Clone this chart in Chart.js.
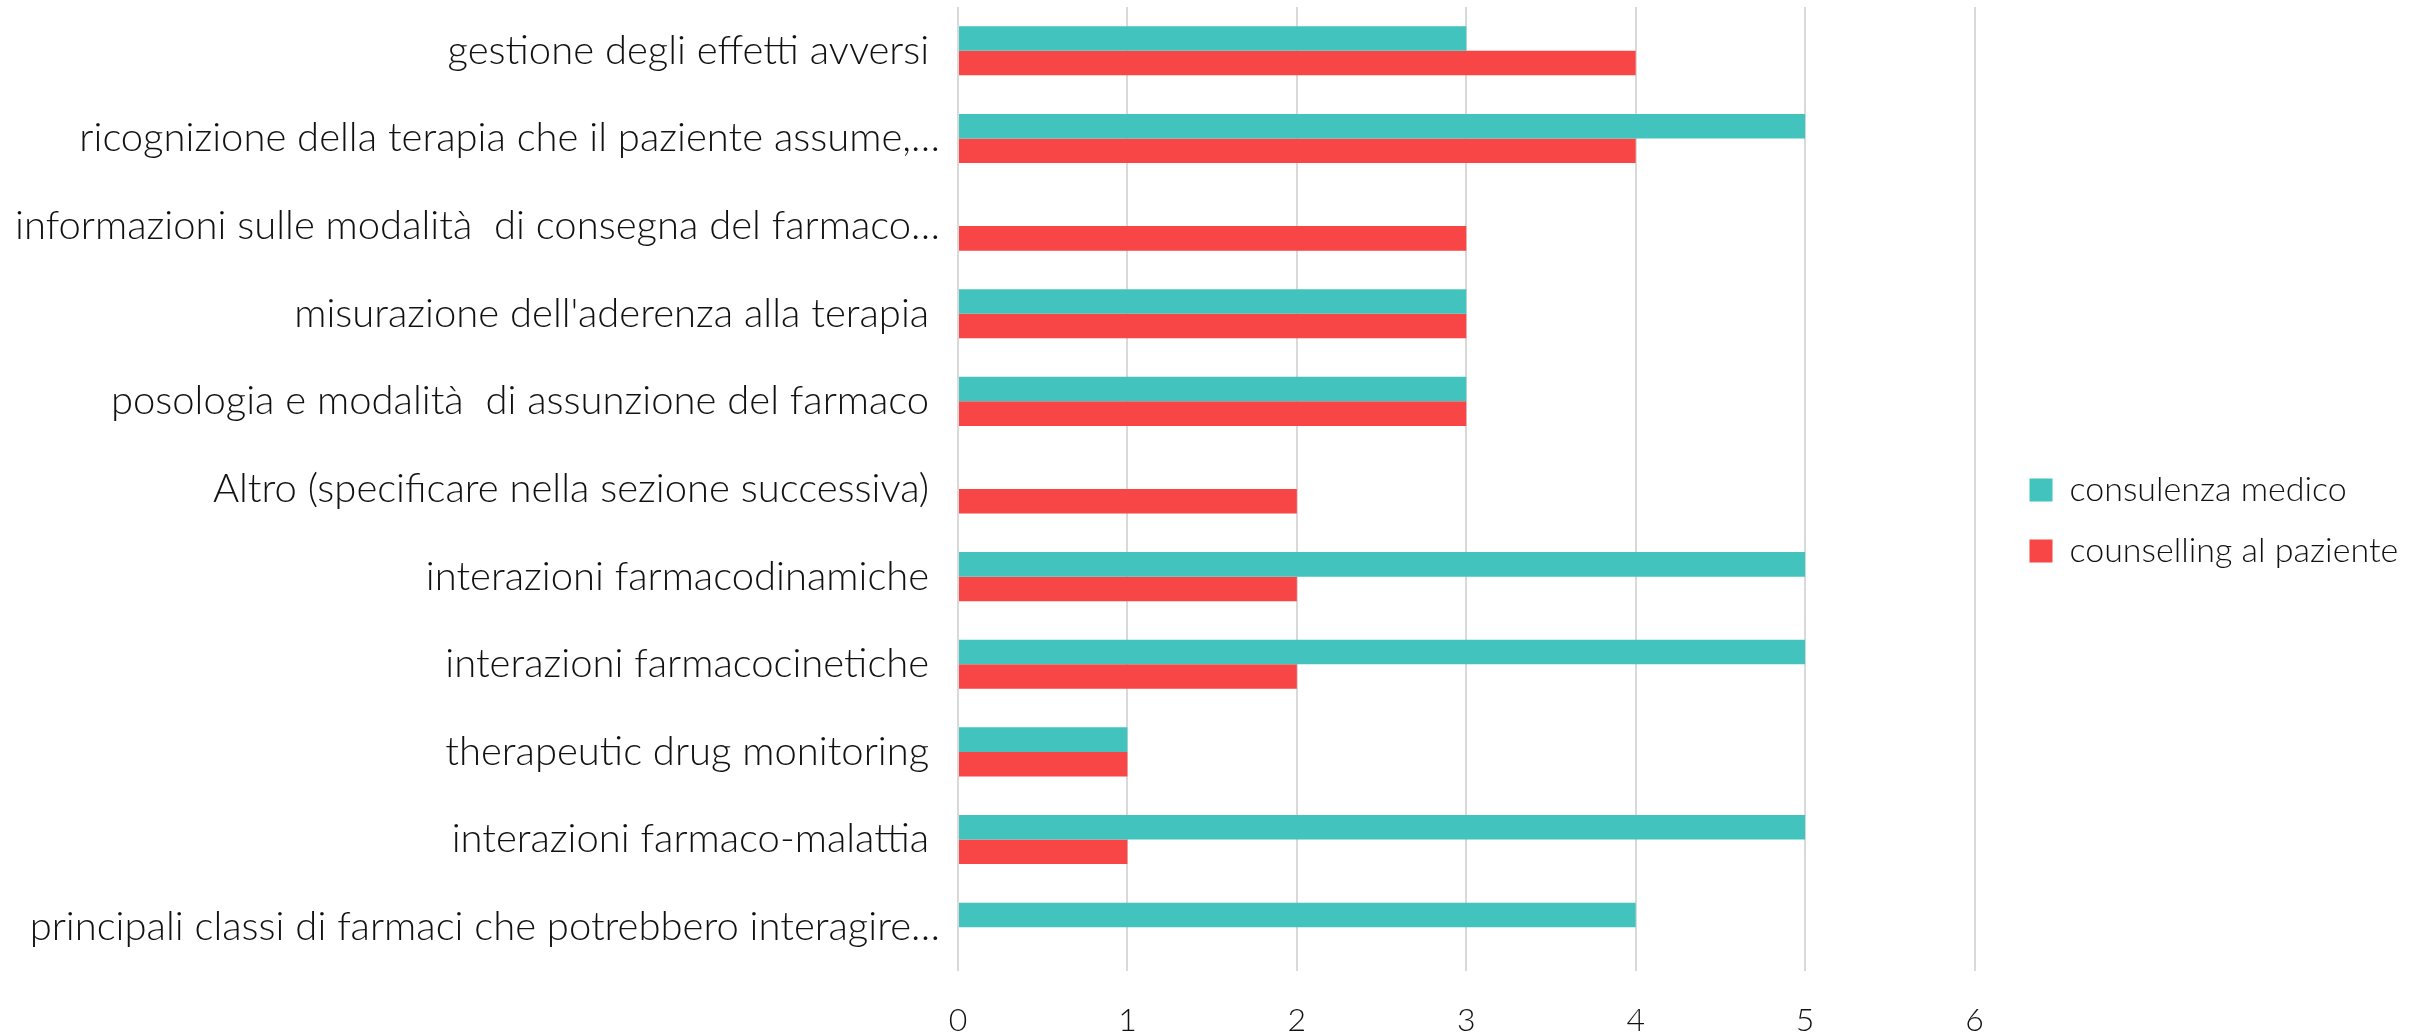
<!DOCTYPE html>
<html>
<head>
<meta charset="utf-8">
<script src="https://cdn.jsdelivr.net/npm/chart.js@4"></script>
<style>
  html, body { margin: 0; padding: 0; background: #fff; }
  #wrap { width: 2427px; height: 1034px; position: relative; }
</style>
</head>
<body>
<div id="wrap"><canvas id="chart"></canvas></div>
<script>
// categories, top to bottom as in the picture
const categories = [
  'gestione degli effetti avversi ',
  'ricognizione della terapia che il paziente assume,…',
  'informazioni sulle modalità  di consegna del farmaco…',
  "misurazione dell'aderenza alla terapia ",
  'posologia e modalità  di assunzione del farmaco ',
  'Altro (specificare nella sezione successiva) ',
  'interazioni farmacodinamiche ',
  'interazioni farmacocinetiche ',
  'therapeutic drug monitoring ',
  'interazioni farmaco-malattia ',
  'principali classi di farmaci che potrebbero interagire…'
];
const consulenzaMedico = [3, 5, 0, 3, 3, 0, 5, 5, 1, 5, 4];
const counsellingPaziente = [4, 4, 3, 3, 3, 2, 2, 2, 1, 1, 0];
const xTicks = [0, 1, 2, 3, 4, 5, 6];

const FONT = 'Lato';
const textColor = '#111';

function initChart() {
  const ctx = document.getElementById('chart');
  new Chart(ctx, {
    type: 'bar',
    data: {
      labels: categories,
      datasets: [
        { label: 'consulenza medico', data: consulenzaMedico, backgroundColor: '#43C3BE' },
        { label: 'counselling al paziente', data: counsellingPaziente, backgroundColor: '#F84546' }
      ]
    },
    options: {
      indexAxis: 'y',
      responsive: true,
      maintainAspectRatio: false,
      animation: false,
      categoryPercentage: 0.56,
      barPercentage: 1,
      layout: { padding: { top: 7, right: 24, left: 0, bottom: 0 } },
      scales: {
        x: {
          min: 0,
          max: 6,
          afterBuildTicks: (scale) => { scale.ticks = xTicks.map(v => ({ value: v })); },
          grid: { color: '#d9d9d9', lineWidth: 2, drawTicks: false },
          border: { display: false },
          ticks: { color: textColor, font: { family: FONT, size: 32, weight: 300 }, padding: 30 },
          afterFit: (scale) => { scale.height = 63; scale.paddingLeft = 0; scale.paddingRight = 0; }
        },
        y: {
          grid: { display: false },
          border: { display: false },
          ticks: { color: textColor, font: { family: FONT, size: 40, weight: 300 }, padding: 10, autoSkip: false },
          afterFit: (scale) => { scale.width = 958; scale.paddingTop = 0; scale.paddingBottom = 0; }
        },
        // empty spacer between plot and legend
        gap: {
          type: 'category',
          position: 'right',
          grid: { display: false },
          border: { display: false },
          ticks: { display: false },
          afterFit: (scale) => { scale.width = 28; scale.paddingTop = 0; scale.paddingBottom = 0; }
        }
      },
      plugins: {
        legend: {
          position: 'right',
          align: 'center',
          labels: {
            color: textColor,
            font: { family: FONT, size: 34, weight: 300 },
            boxWidth: 23,
            boxHeight: 23,
            padding: 27
          }
        },
        tooltip: { enabled: false }
      }
    }
  });
}

initChart();
</script>
</body>
</html>
